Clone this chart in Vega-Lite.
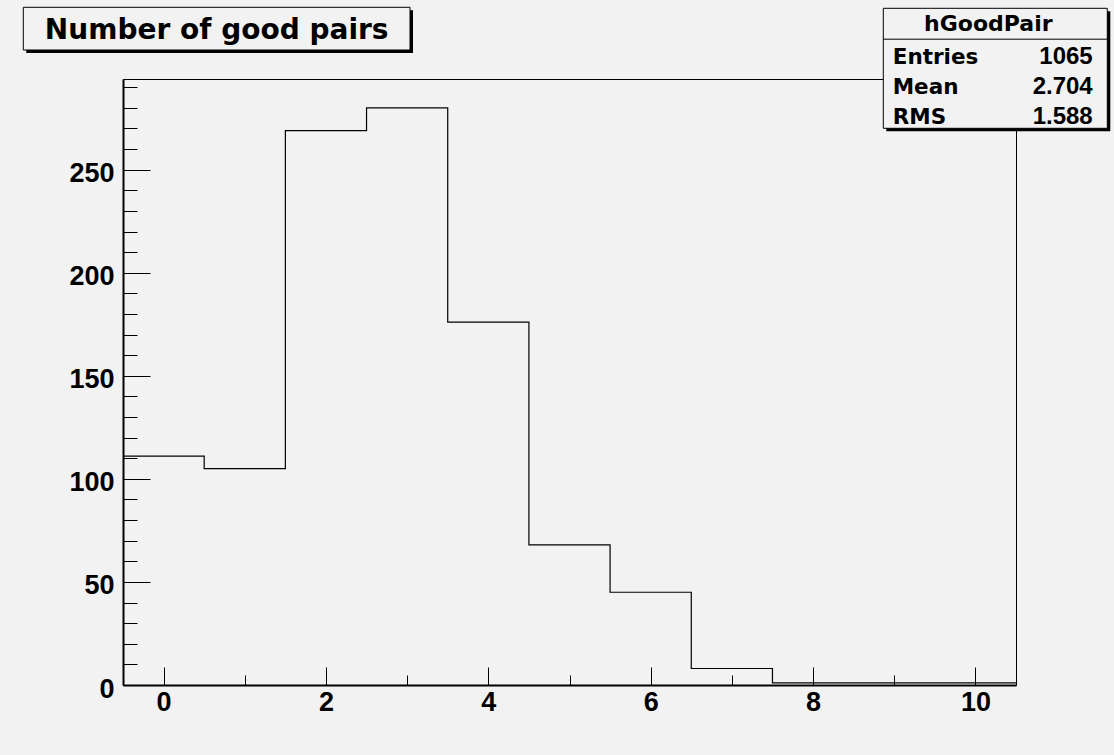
{
  "$schema": "https://vega.github.io/schema/vega-lite/v6.json",
  "width": 893,
  "height": 606,
  "autosize": {"type": "none"},
  "padding": {"left": 123, "top": 79, "right": 98, "bottom": 70},
  "background": "#f2f2f2",
  "config": {
    "view": {"stroke": "black", "strokeWidth": 1},
    "axis": {
      "domainColor": "black",
      "domainWidth": 2,
      "tickColor": "black",
      "tickWidth": 1,
      "labelColor": "black",
      "labelFont": "Liberation Sans",
      "labelFontWeight": "bold",
      "labelFontSize": 27,
      "labelFlush": false,
      "labelOverlap": false,
      "labelBound": false,
      "grid": false,
      "title": null
    }
  },
  "datasets": {
    "hist": [
      {"x0": -0.5, "x1": 0.5, "count": 111},
      {"x0": 0.5, "x1": 1.5, "count": 105},
      {"x0": 1.5, "x1": 2.5, "count": 269},
      {"x0": 2.5, "x1": 3.5, "count": 280},
      {"x0": 3.5, "x1": 4.5, "count": 176},
      {"x0": 4.5, "x1": 5.5, "count": 68},
      {"x0": 5.5, "x1": 6.5, "count": 45},
      {"x0": 6.5, "x1": 7.5, "count": 8},
      {"x0": 7.5, "x1": 8.5, "count": 1},
      {"x0": 8.5, "x1": 9.5, "count": 1},
      {"x0": 9.5, "x1": 10.5, "count": 1}
    ],
    "stats": [
      {"k": "hGoodPair", "v": ""},
      {"k": "Entries", "v": "1065"},
      {"k": "Mean", "v": "2.704"},
      {"k": "RMS", "v": "1.588"}
    ],
    "title": [{"title": "Number of good pairs"}]
  },
  "layer": [
    {
      "data": {"name": "hist"},
      "transform": [{"fold": ["x0", "x1"], "as": ["edge", "x"]}],
      "mark": {"type": "line", "color": "black", "strokeWidth": 1.2},
      "encoding": {
        "x": {
          "field": "x",
          "type": "quantitative",
          "scale": {"domain": [-0.5, 10.5], "nice": false, "zero": false},
          "axis": {
            "values": [0, 0.5, 1, 1.5, 2, 2.5, 3, 3.5, 4, 4.5, 5, 5.5, 6, 6.5, 7, 7.5, 8, 8.5, 9, 9.5, 10],
            "format": "d",
            "tickSize": {"condition": {"test": "datum.value % 2 === 0", "value": -18}, "value": -10},
            "labelExpr": "datum.value % 2 === 0 ? datum.label : ''",
            "labelPadding": 22
          }
        },
        "y": {
          "field": "count",
          "type": "quantitative",
          "scale": {"domain": [0, 294], "nice": false},
          "axis": {
            "values": [0, 10, 20, 30, 40, 50, 60, 70, 80, 90, 100, 110, 120, 130, 140, 150, 160, 170, 180, 190, 200, 210, 220, 230, 240, 250, 260, 270, 280, 290],
            "format": "d",
            "tickSize": {"condition": {"test": "datum.value % 50 === 0", "value": -27}, "value": -14},
            "labelExpr": "datum.value % 50 === 0 ? datum.label : ''",
            "labelPadding": 36,
            "labelOffset": 4
          }
        },
        "order": {"value": null}
      }
    },
    {
      "layer": [
        {
          "data": {"values": [{}]},
          "layer": [
            {
              "mark": {"type": "rect", "fill": "black", "xOffset": 3, "x2Offset": 3, "yOffset": 3, "y2Offset": 3}
            },
            {
              "mark": {"type": "rect", "fill": "#f2f2f2", "stroke": "black", "strokeWidth": 1}
            },
            {
              "mark": {"type": "rule", "color": "black", "strokeWidth": 1},
              "encoding": {"y": {"datum": 1.03, "type": "quantitative"}, "y2": null}
            }
          ],
          "encoding": {
            "x": {"datum": 0, "type": "quantitative", "scale": {"domain": [0, 1], "range": [760.3, 984.3]}, "axis": null},
            "x2": {"datum": 1},
            "y": {"datum": 0, "type": "quantitative", "scale": {"domain": [0, 4], "range": [-70.7, 49.3]}, "axis": null},
            "y2": {"datum": 4}
          }
        },
        {
          "data": {"name": "stats"},
          "layer": [
            {
              "transform": [{"filter": "datum.k === 'hGoodPair'"}],
              "mark": {"type": "text", "align": "center", "baseline": "alphabetic", "dx": -7, "dy": 7.4, "font": "DejaVu Sans", "fontWeight": "bold", "fontSize": 22, "color": "black"},
              "encoding": {"x": {"datum": 0.5, "type": "quantitative"}, "text": {"field": "k"}}
            },
            {
              "transform": [{"filter": "datum.k !== 'hGoodPair'"}],
              "mark": {"type": "text", "align": "left", "baseline": "alphabetic", "dx": 9.4, "dy": 10.7, "font": "DejaVu Sans", "fontWeight": "bold", "fontSize": 21.5, "color": "black"},
              "encoding": {"x": {"datum": 0, "type": "quantitative"}, "text": {"field": "k"}}
            },
            {
              "transform": [{"filter": "datum.k !== 'hGoodPair'"}],
              "mark": {"type": "text", "align": "right", "baseline": "alphabetic", "dx": -14.6, "dy": 10.7, "font": "Liberation Sans", "fontWeight": "bold", "fontSize": 24, "color": "black"},
              "encoding": {"x": {"datum": 1, "type": "quantitative"}, "text": {"field": "v"}}
            }
          ],
          "encoding": {
            "x": {"datum": 0, "type": "quantitative", "scale": {"domain": [0, 1], "range": [760.3, 984.3]}, "axis": null},
            "y": {"field": "k", "type": "nominal", "scale": {"type": "band", "domain": ["hGoodPair", "Entries", "Mean", "RMS"], "range": [-70.7, 49.3], "paddingInner": 0, "paddingOuter": 0}, "axis": null}
          }
        }
      ],
      "resolve": {"scale": {"y": "independent"}, "axis": {"y": "independent"}}
    },
    {
      "data": {"name": "title"},
      "layer": [
        {"mark": {"type": "rect", "fill": "black", "xOffset": 3, "yOffset": 3}},
        {"mark": {"type": "rect", "fill": "#f2f2f2", "stroke": "black", "strokeWidth": 1}},
        {
          "mark": {"type": "text", "align": "center", "baseline": "alphabetic", "dy": 10.65, "font": "DejaVu Sans", "fontWeight": "bold", "fontSize": 28, "color": "black"},
          "encoding": {"text": {"field": "title"}}
        }
      ],
      "encoding": {
        "x": {"field": "title", "type": "nominal", "scale": {"type": "band", "range": [-99.7, 287], "paddingInner": 0, "paddingOuter": 0}, "axis": null},
        "y": {"field": "title", "type": "nominal", "scale": {"type": "band", "range": [-71.7, -29], "paddingInner": 0, "paddingOuter": 0}, "axis": null}
      }
    }
  ],
  "resolve": {"scale": {"x": "independent", "y": "independent"}, "axis": {"x": "independent", "y": "independent"}}
}
